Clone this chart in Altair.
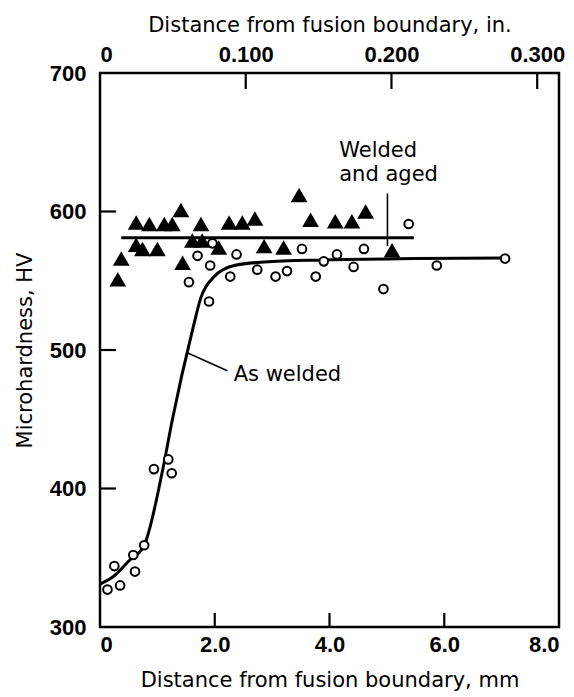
import altair as alt
import pandas as pd

# ---------------- data ----------------
# Welded and aged: filled triangles (distance mm, hardness HV)
tri_mm = [0.31, 0.37, 0.63, 0.63, 0.74, 0.86, 1.00, 1.12, 1.26, 1.41, 1.44, 1.61, 1.76,
          1.78, 2.07, 2.25, 2.48, 2.70, 2.86, 3.20, 3.47, 3.67, 4.10, 4.39, 4.63, 5.09]
tri_hv = [551, 566, 592, 576, 573, 591, 573, 591, 591, 601, 563, 579, 591,
          579, 574, 592, 592, 595, 575, 574, 612, 594, 593, 593, 600, 572]

# As welded: open circles
circ_mm = [0.13, 0.35, 0.25, 0.61, 0.58, 0.77, 0.94, 1.19, 1.25,
           1.55, 1.70, 1.90, 1.92, 1.96, 2.27, 2.38, 2.74, 3.06, 3.26, 3.52,
           3.76, 3.90, 4.13, 4.42, 4.60, 4.94, 5.38, 5.87, 7.06]
circ_hv = [327, 330, 344, 340, 352, 359, 414, 421, 411,
           549, 568, 535, 561, 577, 553, 569, 558, 553, 557, 573,
           553, 564, 569, 560, 573, 544, 591, 561, 566]

# As welded trend curve
curve_mm = [0.0, 0.25, 0.51, 0.77, 1.09, 1.26, 1.61, 1.76, 1.99,
            2.34, 2.86, 3.90, 5.50, 7.06]
curve_hv = [331, 337, 348, 359, 413, 449.5, 514, 538, 553,
            561, 563.5, 565, 566, 566.5]

# Welded and aged mean line
aged_mm = [0.37, 5.47]
aged_hv = [581, 581]

# Axis ticks
mm_ticks = [0, 2, 4, 6, 8]
in_ticks = [0, 0.100, 0.200, 0.300]
hv_ticks = [300, 400, 500, 600, 700]

# Annotations
ann_text = ["Welded", "and aged", "As welded"]
ann_mm = [4.17, 4.17, 2.33]
ann_hv = [644, 626, 482]

# leader lines (start / end)
lead_mm = [1.52, 5.01]
lead_mm2 = [2.22, 5.01]
lead_hv = [498, 613]
lead_hv2 = [485, 575]

# ---------------- tables ----------------
tri_df = pd.DataFrame({"mm": tri_mm, "hv": tri_hv})
circ_df = pd.DataFrame({"mm": circ_mm, "hv": circ_hv})
curve_df = pd.DataFrame({"mm": curve_mm, "hv": curve_hv})
aged_df = pd.DataFrame({"mm": aged_mm, "hv": aged_hv})
ann_df = pd.DataFrame({"t": ann_text, "mm": ann_mm, "hv": ann_hv})
lead_df = pd.DataFrame({"mm": lead_mm, "mm2": lead_mm2, "hv": lead_hv, "hv2": lead_hv2})
in_mm = [v * 25.4 for v in in_ticks]
top_df = pd.DataFrame({"mm": in_mm[1:]})
bot_df = pd.DataFrame({"mm": mm_ticks[1:-1]})
left_df = pd.DataFrame({"hv": hv_ticks[1:-1]})

W, H = 459, 554
xs = alt.Scale(domain=[0, 8], nice=False, zero=False)
ys = alt.Scale(domain=[300, 700], nice=False, zero=False)

LABEL_FONT = "Liberation Sans"
TITLE_FONT = "DejaVu Sans"
LFS = 22
TFS = 21

bottom_axis = alt.Axis(
    orient="bottom", values=mm_ticks,
    labelExpr="datum.value == 0 ? '0' : format(datum.value, '.1f')",
    domain=False, ticks=False, tickSize=0, grid=False, labelPadding=7,
    labelFont=LABEL_FONT, labelFontWeight="bold", labelFontSize=LFS, labelColor="black",
    title="Distance from fusion boundary, mm", titleFont=TITLE_FONT, titleFontSize=TFS,
    titleFontWeight="normal", titleColor="black", titleY=53, titleBaseline="middle",
)
left_axis = alt.Axis(
    orient="left", values=hv_ticks, format="d",
    domain=False, ticks=False, tickSize=0, grid=False, labelPadding=14,
    labelFont=LABEL_FONT, labelFontWeight="bold", labelFontSize=LFS, labelColor="black",
    title="Microhardness, HV", titleFont=TITLE_FONT, titleFontSize=TFS,
    titleFontWeight="normal", titleColor="black", titleX=-75, titleY=H / 2,
    titleAngle=270, titleBaseline="middle", titleAlign="center",
)
top_axis = alt.Axis(
    orient="top", values=in_mm,
    labelExpr="datum.value == 0 ? '0' : format(datum.value / 25.4, '.3f')",
    domain=False, ticks=False, tickSize=0, grid=False, labelPadding=7,
    labelFont=LABEL_FONT, labelFontWeight="bold", labelFontSize=LFS, labelColor="black",
    title="Distance from fusion boundary, in.", titleFont=TITLE_FONT, titleFontSize=TFS,
    titleFontWeight="normal", titleColor="black", titleY=-48, titleBaseline="middle",
)

curve = alt.Chart(curve_df).mark_line(color="black", strokeWidth=3, interpolate="monotone").encode(
    x=alt.X("mm:Q", scale=xs, axis=bottom_axis),
    y=alt.Y("hv:Q", scale=ys, axis=left_axis),
)

aged = alt.Chart(aged_df).mark_line(color="black", strokeWidth=3).encode(
    x=alt.X("mm:Q", scale=xs, axis=None),
    y=alt.Y("hv:Q", scale=ys, axis=None),
)

circles = alt.Chart(circ_df).mark_point(
    shape="circle", size=75, filled=False, fill="white", fillOpacity=1,
    stroke="black", strokeWidth=2, opacity=1,
).encode(
    x=alt.X("mm:Q", scale=xs, axis=None),
    y=alt.Y("hv:Q", scale=ys, axis=None),
)

tris = alt.Chart(tri_df).mark_point(
    shape="triangle-up", size=280, filled=True, color="black", opacity=1,
).encode(
    x=alt.X("mm:Q", scale=xs, axis=None),
    y=alt.Y("hv:Q", scale=ys, axis=None),
)

leaders = alt.Chart(lead_df).mark_rule(color="black", strokeWidth=1.6).encode(
    x=alt.X("mm:Q", scale=xs, axis=None), x2="mm2:Q",
    y=alt.Y("hv:Q", scale=ys, axis=None), y2="hv2:Q",
)

texts = alt.Chart(ann_df).mark_text(
    align="left", baseline="middle", font=TITLE_FONT, fontSize=TFS, color="black",
).encode(
    x=alt.X("mm:Q", scale=xs, axis=None),
    y=alt.Y("hv:Q", scale=ys, axis=None),
    text="t:N",
)

bot_ticks = alt.Chart(bot_df).mark_rule(color="black", strokeWidth=2.2).encode(
    x=alt.X("mm:Q", scale=xs, axis=None),
    y=alt.value(H), y2=alt.value(H - 14),
)

left_ticks = alt.Chart(left_df).mark_rule(color="black", strokeWidth=2.2).encode(
    y=alt.Y("hv:Q", scale=ys, axis=None),
    x=alt.value(0), x2=alt.value(16),
)

top_ticks = alt.Chart(top_df).mark_rule(color="black", strokeWidth=2.2).encode(
    x=alt.X("mm:Q", scale=xs, axis=top_axis),
    y=alt.value(0), y2=alt.value(16),
)

chart = alt.layer(
    curve, aged, circles, tris, leaders, texts, bot_ticks, left_ticks, top_ticks
).resolve_axis(x="independent", y="independent").properties(
    width=W, height=H,
    autosize=alt.AutoSizeParams(type="none"),
    padding={"left": 100, "top": 73, "right": 15, "bottom": 70},
    background="white",
).configure_view(stroke="black", strokeWidth=2.5)

chart.save("out.html", embed_options={"renderer": "svg", "actions": False})
